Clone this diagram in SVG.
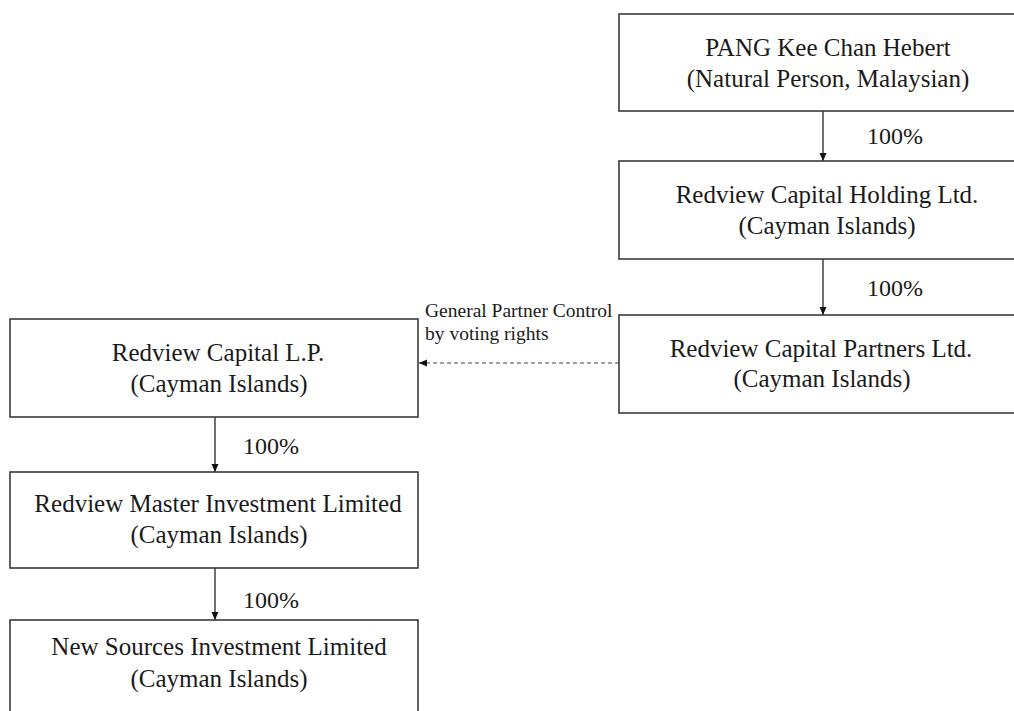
<svg xmlns="http://www.w3.org/2000/svg" width="1014" height="711" viewBox="0 0 1014 711">
<style>
.box{fill:#fff;stroke:#3a3a3a;stroke-width:1.6}
.t{font-family:"Liberation Serif","Times New Roman",serif;font-size:25px;fill:#1a1a1a;text-anchor:middle}
.p{font-family:"Liberation Serif","Times New Roman",serif;font-size:24px;fill:#1a1a1a}
.s{font-family:"Liberation Serif","Times New Roman",serif;font-size:19.5px;fill:#1a1a1a}
.c{stroke:#222;stroke-width:1.3;fill:none}
.d{stroke:#444;stroke-width:1.2;fill:none;stroke-dasharray:4 3}
</style>
<defs>
<marker id="ah" markerWidth="9" markerHeight="9" refX="8" refY="4" orient="auto" markerUnits="userSpaceOnUse">
<path d="M0,0.5 L8,4 L0,7.5 Z" fill="#111"/>
</marker>
</defs>
<rect width="1014" height="711" fill="#fff"/>
<g id="connectors">
<line class="c" x1="823" y1="111" x2="823" y2="161" marker-end="url(#ah)"/>
<line class="c" x1="823" y1="259" x2="823" y2="315" marker-end="url(#ah)"/>
<line class="d" x1="619" y1="363" x2="419" y2="363" marker-end="url(#ah)"/>
<line class="c" x1="215" y1="417" x2="215" y2="472" marker-end="url(#ah)"/>
<line class="c" x1="215" y1="568" x2="215" y2="620" marker-end="url(#ah)"/>
<text class="p" x="867" y="144">100%</text>
<text class="p" x="867" y="296">100%</text>
<text class="s" x="425" y="317">General Partner Control</text>
<text class="s" x="425" y="340">by voting rights</text>
<text class="p" x="243" y="454">100%</text>
<text class="p" x="243" y="608">100%</text>
</g>
<g id="pang">
<rect class="box" x="619" y="14" width="420" height="97"/>
<text class="t" x="828" y="56">PANG Kee Chan Hebert</text>
<text class="t" x="828" y="87">(Natural Person, Malaysian)</text>
</g>
<g id="holding">
<rect class="box" x="619" y="161" width="420" height="98"/>
<text class="t" x="827" y="203">Redview Capital Holding Ltd.</text>
<text class="t" x="827" y="234">(Cayman Islands)</text>
</g>
<g id="partners">
<rect class="box" x="619" y="315" width="420" height="98"/>
<text class="t" x="821" y="357">Redview Capital Partners Ltd.</text>
<text class="t" x="822" y="387">(Cayman Islands)</text>
</g>
<g id="lp">
<rect class="box" x="10" y="319" width="408" height="98"/>
<text class="t" x="218" y="361">Redview Capital L.P.</text>
<text class="t" x="219" y="392">(Cayman Islands)</text>
</g>
<g id="master">
<rect class="box" x="10" y="472" width="408" height="96"/>
<text class="t" x="218" y="512">Redview Master Investment Limited</text>
<text class="t" x="219" y="543">(Cayman Islands)</text>
</g>
<g id="newsources">
<rect class="box" x="10" y="620" width="408" height="110"/>
<text class="t" x="219" y="655">New Sources Investment Limited</text>
<text class="t" x="219" y="687">(Cayman Islands)</text>
</g>
</svg>
